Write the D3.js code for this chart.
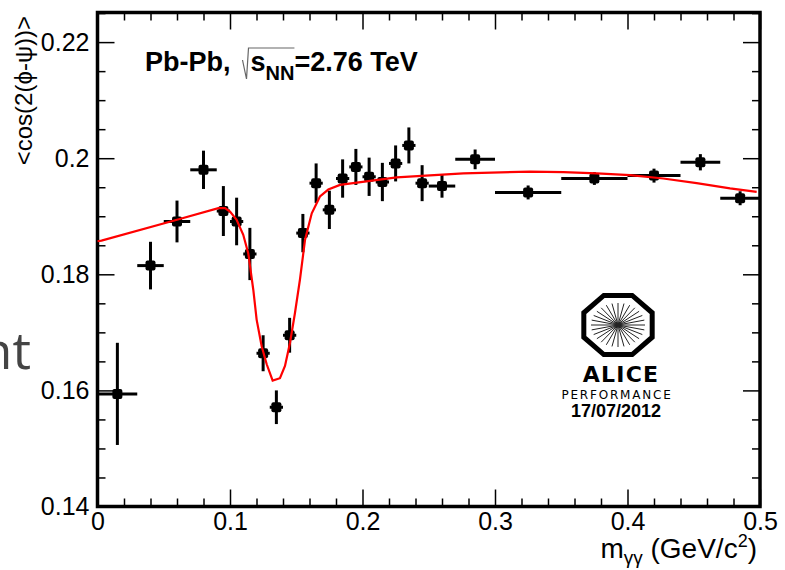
<!DOCTYPE html>
<head>
<meta charset="utf-8">
<script src="https://d3js.org/d3.v7.min.js"></script>
<style>
    body {
        margin: 0;
        background: white;
    }
    svg {
        display: block;
        font-family: "Liberation Sans", Arial, Helvetica, sans-serif;
    }
    .tick text {
        font-size: 25px;
        fill: black;
    }
    .domain {
        display: none;
    }
    .tick line {
        stroke: black;
        stroke-width: 1.5px;
    }
    .err-bar {
        stroke: black;
        stroke-width: 3px;
    }
    .fit-line {
        fill: none;
        stroke: #ff0000;
        stroke-width: 2.2px;
    }
</style>
</head>
<body>
<script>
    // measured points (bin centre, half bin width, <cos2(phi-psi)>, stat error)
    var massCenters = [0.015, 0.04, 0.06, 0.08, 0.095, 0.105, 0.115, 0.125, 0.135, 0.145, 0.155, 0.165,
        0.175, 0.185, 0.195, 0.205, 0.215, 0.225, 0.235, 0.245, 0.26, 0.285, 0.325, 0.375, 0.42, 0.455, 0.485];
    var massHalfWidths = [0.015, 0.01, 0.01, 0.01, 0.005, 0.005, 0.005, 0.005, 0.005, 0.005, 0.005, 0.005,
        0.005, 0.005, 0.005, 0.005, 0.005, 0.005, 0.005, 0.005, 0.01, 0.015, 0.025, 0.025, 0.02, 0.015, 0.015];
    var cosValues = [0.1594, 0.1815, 0.1891, 0.1980, 0.1909, 0.1891, 0.1835, 0.1664, 0.1571, 0.1695, 0.1871, 0.1957,
        0.1911, 0.1965, 0.1985, 0.1968, 0.1959, 0.1991, 0.2022, 0.1957, 0.1952, 0.1998, 0.1941, 0.1965, 0.1970, 0.1993, 0.1931];
    var cosErrors = [0.0088, 0.0041, 0.0036, 0.0033, 0.0043, 0.0041, 0.0045, 0.0031, 0.0029, 0.0030, 0.0033, 0.0034,
        0.0033, 0.0033, 0.0031, 0.0033, 0.0033, 0.0031, 0.0031, 0.0031, 0.0020, 0.0017, 0.0012, 0.0011, 0.0012, 0.0014, 0.0012];

    // red fit curve
    var fitMass = [0, 0.003, 0.06, 0.0912, 0.0962, 0.1, 0.105, 0.11, 0.1138, 0.1176, 0.1201, 0.1239, 0.1277,
        0.1322, 0.1377, 0.1415, 0.1453, 0.149, 0.1528, 0.1566, 0.1617, 0.1679, 0.1742, 0.183, 0.2258, 0.2761,
        0.3264, 0.3516, 0.3768, 0.4019, 0.427, 0.4522, 0.4774, 0.4975];
    var fitCos = [0.1857, 0.1858, 0.1894, 0.1914, 0.1914, 0.1908, 0.1894, 0.1868, 0.1836, 0.1773, 0.1722, 0.1676, 0.1645,
        0.1617, 0.1621, 0.1642, 0.1682, 0.1733, 0.1791, 0.1859, 0.1905, 0.1934, 0.1946, 0.1954, 0.1967, 0.1974,
        0.1977, 0.1976, 0.1974, 0.1971, 0.1965, 0.1957, 0.1948, 0.1942];

    // ticks
    var xTicks = [0, 0.1, 0.2, 0.3, 0.4, 0.5];
    var xTickLabels = ["0", "0.1", "0.2", "0.3", "0.4", "0.5"];
    var yTicks = [0.14, 0.16, 0.18, 0.2, 0.22];
    var yTickLabels = ["0.14", "0.16", "0.18", "0.2", "0.22"];

    var frame = {left: 97.5, right: 760, top: 12.5, bottom: 506.5};

    var svg = d3.select("body").append("svg")
        .attr("width", 785)
        .attr("height", 570);

    var x = d3.scaleLinear()
        .domain([0, 0.5])
        .range([frame.left, frame.right]);

    var y = d3.scaleLinear()
        .domain([0.14, 0.2251])
        .range([frame.bottom, frame.top]);

    var xMinor = d3.range(0, 0.5001, 0.02).filter(function(d) {
        return Math.abs(d * 10 - Math.round(d * 10)) > 1e-6;
    });
    var yMinor = d3.range(0.14, 0.2251, 0.005).filter(function(d) {
        return Math.abs(d * 50 - Math.round(d * 50)) > 1e-6;
    });

    // left axis
    svg.append("g")
        .attr("transform", "translate(" + frame.left + ",0)")
        .call(d3.axisLeft(y).tickValues(yTicks)
            .tickFormat(function(d, i) { return yTickLabels[i]; })
            .tickSize(-17).tickPadding(8));
    svg.append("g")
        .attr("transform", "translate(" + frame.left + ",0)")
        .call(d3.axisLeft(y).tickValues(yMinor).tickFormat("").tickSize(-8));

    // right axis
    svg.append("g")
        .attr("transform", "translate(" + frame.right + ",0)")
        .call(d3.axisRight(y).tickValues(yTicks).tickFormat("").tickSize(-17));
    svg.append("g")
        .attr("transform", "translate(" + frame.right + ",0)")
        .call(d3.axisRight(y).tickValues(yMinor).tickFormat("").tickSize(-8));

    // bottom axis
    svg.append("g")
        .attr("transform", "translate(0," + frame.bottom + ")")
        .call(d3.axisBottom(x).tickValues(xTicks)
            .tickFormat(function(d, i) { return xTickLabels[i]; })
            .tickSize(-17).tickPadding(6));
    svg.append("g")
        .attr("transform", "translate(0," + frame.bottom + ")")
        .call(d3.axisBottom(x).tickValues(xMinor).tickFormat("").tickSize(-8));

    // top axis
    svg.append("g")
        .attr("transform", "translate(0," + frame.top + ")")
        .call(d3.axisTop(x).tickValues(xTicks).tickFormat("").tickSize(-17));
    svg.append("g")
        .attr("transform", "translate(0," + frame.top + ")")
        .call(d3.axisTop(x).tickValues(xMinor).tickFormat("").tickSize(-8));

    // frame
    svg.append("rect")
        .attr("x", frame.left)
        .attr("y", frame.top)
        .attr("width", frame.right - frame.left)
        .attr("height", frame.bottom - frame.top)
        .attr("fill", "none")
        .attr("stroke", "black")
        .attr("stroke-width", 3.5);

    // axis titles
    svg.append("text")
        .attr("transform", "translate(32,16) rotate(-90)")
        .attr("text-anchor", "end")
        .attr("font-size", 24)
        .text("<cos(2(\u03D5-\u03C8))>");

    var xTitle = svg.append("text")
        .attr("x", 757)
        .attr("y", 558)
        .attr("text-anchor", "end")
        .attr("font-size", 28);
    xTitle.append("tspan").text("m");
    xTitle.append("tspan").attr("font-size", 19).attr("dy", 6).text("\u03B3\u03B3");
    xTitle.append("tspan").attr("dy", -6).text(" (GeV/c");
    xTitle.append("tspan").attr("font-size", 18).attr("dy", -11).text("2");
    xTitle.append("tspan").attr("dy", 11).text(")");

    // data
    var points = massCenters.map(function(m, i) {
        return {m: m, dm: massHalfWidths[i], v: cosValues[i], dv: cosErrors[i]};
    });

    var pts = svg.append("g").attr("class", "points")
        .selectAll("g")
        .data(points)
        .enter().append("g");

    pts.append("line")
        .attr("class", "err-bar")
        .attr("x1", function(d) { return x(d.m - d.dm); })
        .attr("x2", function(d) { return x(d.m + d.dm); })
        .attr("y1", function(d) { return y(d.v); })
        .attr("y2", function(d) { return y(d.v); });

    pts.append("line")
        .attr("class", "err-bar")
        .attr("x1", function(d) { return x(d.m); })
        .attr("x2", function(d) { return x(d.m); })
        .attr("y1", function(d) { return y(d.v - d.dv); })
        .attr("y2", function(d) { return y(d.v + d.dv); });

    pts.append("rect")
        .attr("x", function(d) { return x(d.m) - 5; })
        .attr("y", function(d) { return y(d.v) - 5; })
        .attr("width", 10)
        .attr("height", 10)
        .attr("rx", 2)
        .attr("fill", "black");

    // fit
    var fitLine = d3.line()
        .x(function(d, i) { return x(fitMass[i]); })
        .y(function(d) { return y(d); });

    svg.append("path")
        .attr("class", "fit-line")
        .attr("d", fitLine(fitCos));

    // header  Pb-Pb, sqrt(s_NN)=2.76 TeV
    var head = svg.append("g")
        .attr("font-weight", "bold")
        .attr("font-size", 27);
    var t1 = head.append("text").attr("x", 145).attr("y", 71).text("Pb-Pb,");
    var x1 = 145 + t1.node().getComputedTextLength() + 14;
    var t2 = head.append("text").attr("x", x1 + 6).attr("y", 71).text("s");
    var x2 = x1 + 6 + t2.node().getComputedTextLength();
    var t3 = head.append("text").attr("x", x2).attr("y", 80).attr("font-size", 20).text("NN");
    var x3 = x2 + t3.node().getComputedTextLength();
    head.append("text").attr("x", x3).attr("y", 71).text("=2.76 TeV");
    head.append("path")
        .attr("d", "M" + (x1 - 2) + ",60L" + (x1 + 2) + ",79L" + (x1 + 4) + ",48L" + x3 + ",48")
        .attr("fill", "none")
        .attr("stroke", "#666")
        .attr("stroke-width", 1.2);

    // ALICE performance logo
    var logo = svg.append("g").attr("transform", "translate(618,325)");
    var octo = d3.range(8).map(function(k) {
        var a = Math.PI / 8 + k * Math.PI / 4;
        return [37 * Math.cos(a), 32 * Math.sin(a)];
    });
    logo.append("path")
        .attr("d", d3.line()(octo) + "Z")
        .attr("fill", "white")
        .attr("stroke", "black")
        .attr("stroke-width", 5);
    logo.selectAll("line.ray")
        .data(d3.range(28))
        .enter().append("line")
        .attr("class", "ray")
        .attr("x1", 0).attr("y1", 0)
        .attr("x2", function(d) { return 27 * Math.cos(d * Math.PI / 14); })
        .attr("y2", function(d) { return 22 * Math.sin(d * Math.PI / 14); })
        .attr("stroke", "#222")
        .attr("stroke-width", 1);
    logo.append("text")
        .attr("x", 3).attr("y", 57)
        .attr("text-anchor", "middle")
        .attr("font-family", "DejaVu Sans")
        .attr("font-weight", "bold")
        .attr("font-size", 22)
        .attr("letter-spacing", 1.2)
        .text("ALICE");
    logo.append("text")
        .attr("x", -1).attr("y", 74)
        .attr("text-anchor", "middle")
        .attr("font-family", "DejaVu Sans")
        .attr("font-size", 12)
        .attr("letter-spacing", 1.8)
        .text("PERFORMANCE");
    logo.append("text")
        .attr("x", -2).attr("y", 92)
        .attr("text-anchor", "middle")
        .attr("font-weight", "bold")
        .attr("font-size", 18)
        .text("17/07/2012");

    // leftover slide text at the edge
    svg.append("text")
        .attr("x", 31)
        .attr("y", 369)
        .attr("text-anchor", "end")
        .attr("font-family", "Open Sans")
        .attr("font-size", 52)
        .attr("fill", "#444")
        .text("nt");
</script>
</body>
</html>
